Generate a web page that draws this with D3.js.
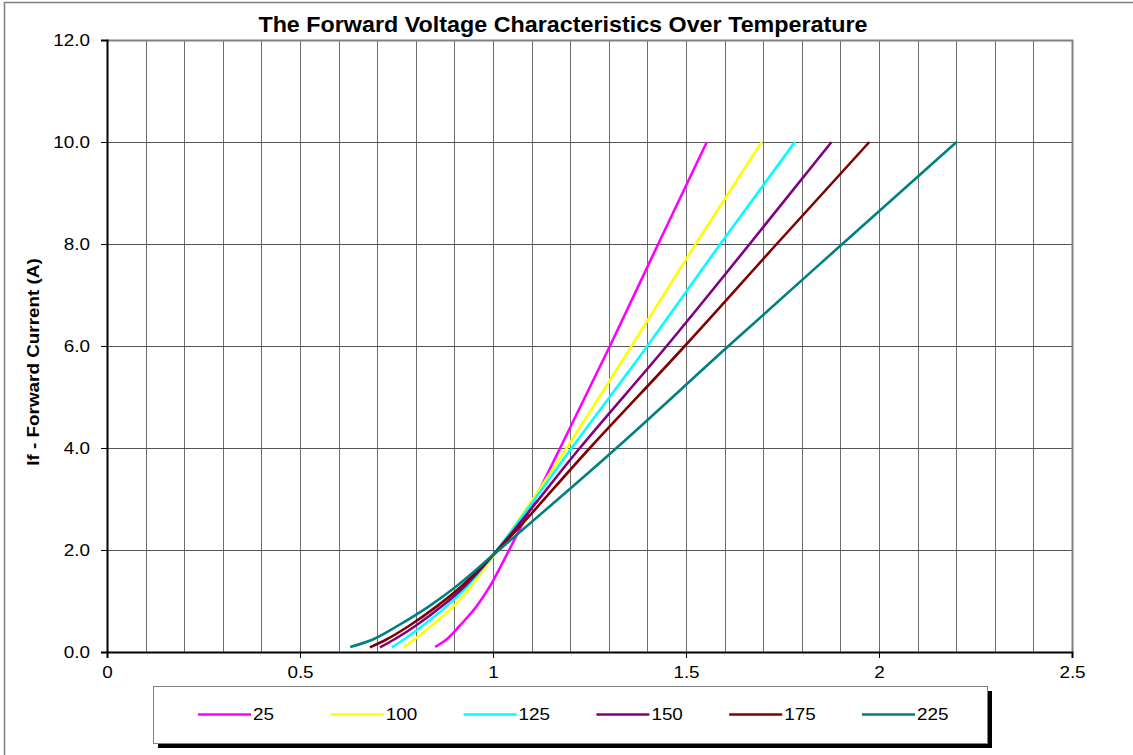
<!DOCTYPE html>
<html>
<head>
<meta charset="UTF-8">
<title>The Forward Voltage Characteristics Over Temperature</title>
<script src="https://d3js.org/d3.v7.min.js"></script>
<style>
  body { margin: 0; background: #fff; }
  text { font-family: "Liberation Sans", Arial, sans-serif; }
</style>
</head>
<body>
<svg id="chart"></svg>
<script>
// temperatures (legend labels) and colours
const temps = ["25", "100", "125", "150", "175", "225"];
const colors = ["#ff00ff", "#ffff00", "#00ffff", "#800080", "#800000", "#008080"];

// forward voltage (V) vs forward current (A)
const v25  = [0.850, 0.880, 0.912, 0.958, 0.993, 1.035, 1.174, 1.303, 1.428, 1.554];
const i25  = [0.10, 0.25, 0.5, 0.9, 1.3, 1.9, 4.0, 6.0, 8.0, 10.0];
const v100 = [0.768, 0.797, 0.838, 0.898, 0.945, 1.003, 1.191, 1.359, 1.525, 1.696];
const i100 = [0.09, 0.25, 0.5, 0.9, 1.3, 1.9, 4.0, 6.0, 8.0, 10.0];
const v125 = [0.738, 0.770, 0.815, 0.880, 0.935, 1.000, 1.204, 1.400, 1.589, 1.782];
const i125 = [0.09, 0.25, 0.5, 0.9, 1.3, 1.9, 4.0, 6.0, 8.0, 10.0];
const v150 = [0.707, 0.745, 0.797, 0.868, 0.928, 1.000, 1.225, 1.450, 1.665, 1.877];
const i150 = [0.09, 0.25, 0.5, 0.9, 1.3, 1.9, 4.0, 6.0, 8.0, 10.0];
const v175 = [0.681, 0.725, 0.780, 0.855, 0.920, 1.000, 1.251, 1.497, 1.735, 1.975];
const i175 = [0.09, 0.25, 0.5, 0.9, 1.3, 1.9, 4.0, 6.0, 8.0, 10.0];
const v225 = [0.630, 0.690, 0.750, 0.835, 0.907, 1.000, 1.320, 1.610, 1.905, 2.201];
const i225 = [0.10, 0.25, 0.5, 0.9, 1.3, 1.9, 4.0, 6.0, 8.0, 10.0];

const xTicks = [0, 0.5, 1, 1.5, 2, 2.5];
const yTicks = [0, 2, 4, 6, 8, 10, 12];

const series = [
  {name: temps[0], v: v25,  i: i25},
  {name: temps[1], v: v100, i: i100},
  {name: temps[2], v: v125, i: i125},
  {name: temps[3], v: v150, i: i150},
  {name: temps[4], v: v175, i: i175},
  {name: temps[5], v: v225, i: i225}
].map((s, k) => ({name: s.name, color: colors[k], pts: s.v.map((v, j) => [v, s.i[j]])}));

const W = 1133, H = 755;
const plot = {left: 107, right: 1072, top: 40, bottom: 652};
const SX = 1.18; // the original's text is a bit wider than Arial

// widen text horizontally around its own anchor
function stretch(sel, k) {
  sel.each(function() {
    const t = d3.select(this);
    const x0 = +t.attr("x") || 0;
    t.attr("x", x0 / k).attr("transform", `scale(${k},1)`);
  });
}

const svg = d3.select("#chart").attr("width", W).attr("height", H);

// outer chart frame
svg.append("rect")
  .attr("x", 4.5).attr("y", 2.5)
  .attr("width", W + 10).attr("height", H + 10)
  .attr("fill", "none").attr("stroke", "#808080").attr("stroke-width", 1.5);

const x = d3.scaleLinear().domain([0, 2.5]).range([plot.left, plot.right]);
const y = d3.scaleLinear().domain([0, 12]).range([plot.bottom, plot.top]);

// vertical grid every 0.1 V
const g = svg.append("g");
g.selectAll(".vgrid")
  .data(d3.range(1, 25).map(d => d / 10))
  .enter().append("line")
  .attr("x1", d => Math.round(x(d)) + 0.5).attr("x2", d => Math.round(x(d)) + 0.5)
  .attr("y1", plot.top).attr("y2", plot.bottom)
  .attr("stroke", "#6e6e6e").attr("stroke-width", 1);

// horizontal grid
g.selectAll(".hgrid")
  .data(yTicks.slice(1))
  .enter().append("line")
  .attr("x1", plot.left).attr("x2", plot.right)
  .attr("y1", d => Math.round(y(d)) + 0.5).attr("y2", d => Math.round(y(d)) + 0.5)
  .attr("stroke", "#555").attr("stroke-width", 1);

// plot frame top/right
svg.append("path")
  .attr("d", `M${plot.left},${plot.top + 0.5}H${plot.right + 0.5}V${plot.bottom}`)
  .attr("fill", "none").attr("stroke", "#808080").attr("stroke-width", 2);

// curves
const line = d3.line()
  .x(d => x(d[0])).y(d => y(d[1]))
  .curve(d3.curveMonotoneX);

svg.append("g").selectAll("path")
  .data(series)
  .enter().append("path")
  .attr("d", d => line(d.pts))
  .attr("fill", "none")
  .attr("stroke", d => d.color)
  .attr("stroke-width", 2.6);

// axes
const xAxis = svg.append("g")
  .attr("transform", `translate(0, ${plot.bottom})`)
  .call(d3.axisBottom(x).tickValues(xTicks).tickFormat(d3.format("")).tickSize(6).tickPadding(9));
const yAxis = svg.append("g")
  .attr("transform", `translate(${plot.left}, 0)`)
  .call(d3.axisLeft(y).tickValues(yTicks).tickFormat(d3.format(".1f")).tickSize(6).tickPadding(11));

[xAxis, yAxis].forEach(a => {
  a.select(".domain").attr("stroke", "#000").attr("stroke-width", 2);
  a.selectAll(".tick line").attr("stroke", "#000");
  a.selectAll(".tick text")
    .attr("font-family", "Liberation Sans, Arial, sans-serif")
    .attr("font-size", "16px").attr("fill", "#000")
    .call(stretch, SX);
});
yAxis.selectAll(".tick text").attr("dy", "0.35em");

// titles
svg.append("text")
  .attr("x", 563).attr("y", 32)
  .attr("text-anchor", "middle")
  .attr("font-size", "22px").attr("font-weight", "bold")
  .text("The Forward Voltage Characteristics Over Temperature")
  .call(stretch, 1.06);

svg.append("text")
  .attr("transform", `translate(39, 362) rotate(-90) scale(${SX},1)`)
  .attr("text-anchor", "middle")
  .attr("font-size", "16px").attr("font-weight", "bold")
  .text("If - Forward Current (A)");

// legend
const lg = svg.append("g");
lg.append("rect")
  .attr("x", 158).attr("y", 691).attr("width", 834).attr("height", 57)
  .attr("fill", "#000");
lg.append("rect")
  .attr("x", 153.5).attr("y", 686.5).attr("width", 834).attr("height", 57)
  .attr("fill", "#fff").attr("stroke", "#808080").attr("stroke-width", 1);

const legX = d3.scalePoint().domain(temps).range([198, 862]);
const item = lg.selectAll(".item")
  .data(series)
  .enter().append("g")
  .attr("transform", d => `translate(${legX(d.name)}, 714.5)`);
item.append("line")
  .attr("x1", 0).attr("x2", 53)
  .attr("stroke", d => d.color).attr("stroke-width", 2.6);
item.append("text")
  .attr("x", 55).attr("y", 0).attr("dy", "0.35em")
  .attr("font-size", "16px")
  .text(d => d.name)
  .call(stretch, SX);
</script>
</body>
</html>
